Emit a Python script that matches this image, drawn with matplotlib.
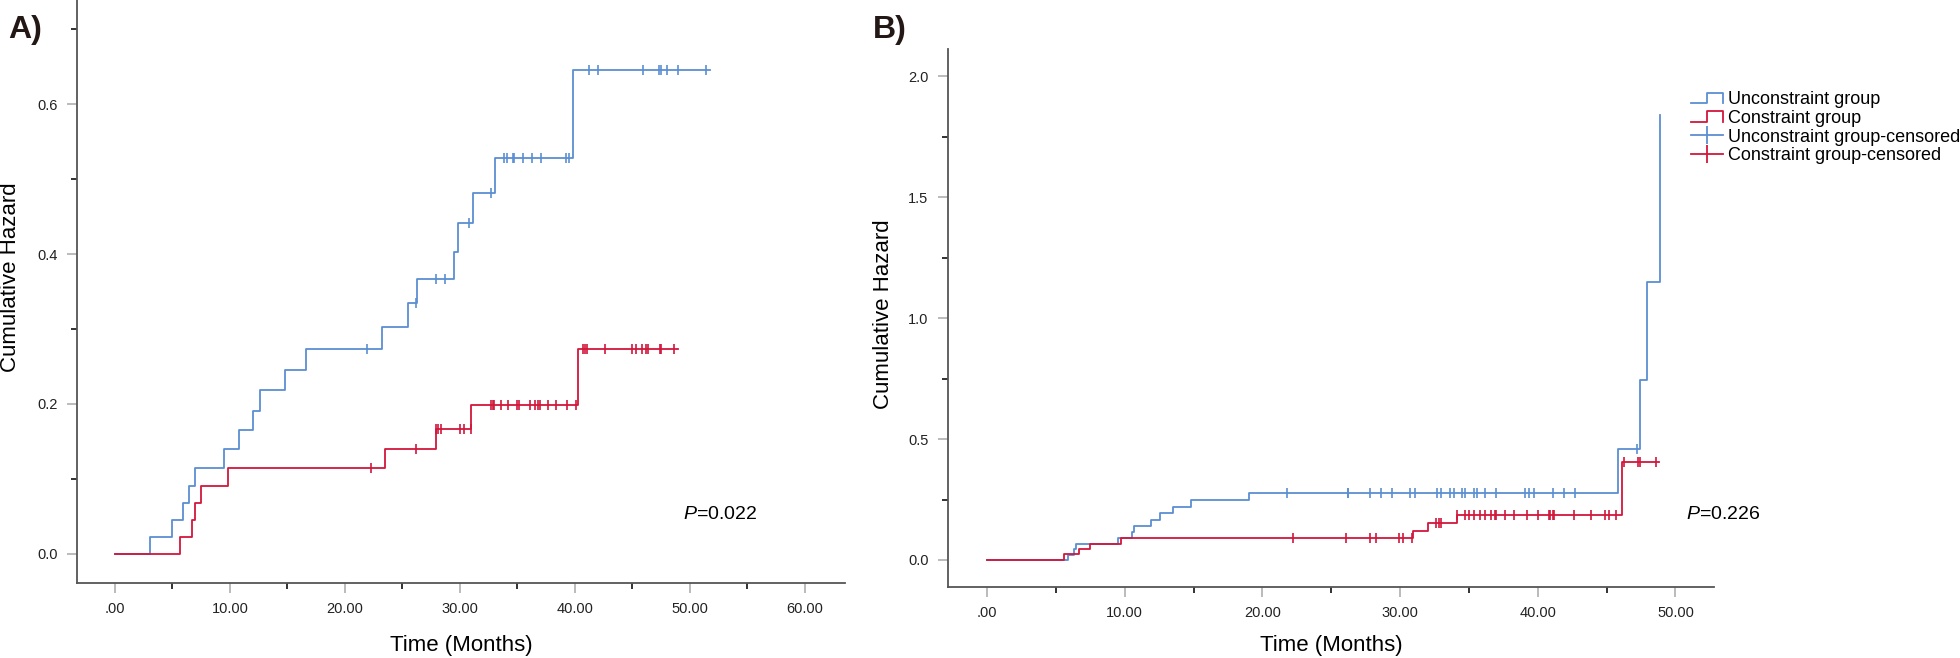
import matplotlib.pyplot as plt
import numpy as np
from matplotlib.lines import Line2D
from matplotlib.legend_handler import HandlerBase
from matplotlib.ticker import MultipleLocator, FuncFormatter

plt.rcParams['font.family'] = ['Liberation Sans', 'DejaVu Sans']
plt.rcParams['mathtext.fontset'] = 'custom'
plt.rcParams['mathtext.it'] = 'Liberation Sans:italic'
plt.rcParams['mathtext.rm'] = 'Liberation Sans'

BLUE = '#5b8fd2'
RED = '#d2173c'

# Panel A - step curves (time, cumulative hazard) and censored times
a_unc_t = [0, 3.07, 4.97, 5.95, 6.4, 7.0, 9.5, 10.8, 12.0, 12.6, 14.8, 16.6, 23.2, 25.45, 26.3, 29.5, 29.8, 31.15, 33.1, 39.85]
a_unc_h = [0, 0.022, 0.045, 0.068, 0.091, 0.115, 0.140, 0.165, 0.190, 0.218, 0.245, 0.273, 0.303, 0.334, 0.367, 0.403, 0.441, 0.482, 0.528, 0.645]
a_unc_end = 51.8
a_unc_cens = [21.9, 26.2, 27.9, 28.7, 30.8, 32.7, 33.8, 34.1, 34.6, 34.7, 35.5, 36.3, 37.1, 39.2, 39.5,
              41.2, 42.0, 45.9, 47.3, 47.5, 48.0, 49.0, 51.4]

a_con_t = [0, 5.7, 6.7, 7.0, 7.5, 9.8, 23.5, 27.9, 31.0, 40.25]
a_con_h = [0, 0.022, 0.045, 0.068, 0.091, 0.115, 0.140, 0.167, 0.199, 0.273]
a_con_end = 49.0
a_con_cens = [22.3, 26.2, 27.95, 28.1, 28.4, 30.0, 30.4, 30.95,
              32.7, 32.9, 33.0, 33.6, 34.2, 35.0, 35.15, 36.1, 36.5, 36.8, 37.0, 37.7, 38.4, 39.3, 40.1,
              40.7, 40.9, 41.1, 42.6, 45.0, 45.3, 45.8, 46.2, 46.4, 47.4, 47.5, 48.6]

# Panel B
b_unc_t = [0, 5.86, 6.3, 6.5, 9.5, 10.5, 10.7, 11.9, 12.6, 13.5, 14.8, 19.0, 45.8, 47.45, 47.9, 48.9]
b_unc_h = [0, 0.02, 0.047, 0.067, 0.092, 0.114, 0.14, 0.165, 0.193, 0.219, 0.247, 0.276, 0.459, 0.744, 1.15, 1.84]
b_unc_end = 48.9
b_unc_cens = [21.8, 26.2, 26.25, 27.8, 28.6, 29.4, 30.7, 31.1, 32.7, 33.0, 33.6, 33.9, 34.5, 34.7, 35.4, 35.6,
              36.2, 37.0, 39.1, 39.4, 39.7, 41.1, 41.9, 42.7, 47.2]

b_con_t = [0, 5.6, 6.65, 7.5, 9.7, 30.96, 32.0, 34.1, 46.1]
b_con_h = [0, 0.023, 0.044, 0.067, 0.091, 0.12, 0.152, 0.186, 0.406]
b_con_end = 48.8
b_con_cens = [22.2, 26.1, 27.8, 28.25, 29.9, 30.2, 30.9, 32.6, 32.8, 33.0,
              34.15, 34.7, 35.0, 35.4, 35.8, 36.2, 36.6, 36.9, 37.0, 37.6, 38.3, 39.2, 40.0, 40.8, 40.9,
              41.1, 41.2, 42.6, 43.9, 44.9, 45.2, 45.7, 46.3, 47.3, 47.4, 48.6]

labels = ['Unconstraint group', 'Constraint group', 'Unconstraint group-censored', 'Constraint group-censored']


def draw_curve(ax, t, h, end, cens, color):
    ax.step(list(t) + [end], list(h) + [h[-1]], where='post', color=color, lw=1.3, zorder=3)
    idx = np.searchsorted(t, cens, side='right') - 1
    ax.plot(cens, np.array(h)[idx], linestyle='none', marker='|', ms=7.5, mew=1.2, color=color, zorder=4)


def style_axes(ax, mx, nx, my, ny, xfmt, yfmt):
    for s in ['top', 'right']:
        ax.spines[s].set_visible(False)
    for s in ['left', 'bottom']:
        ax.spines[s].set_color('#555555')
        ax.spines[s].set_linewidth(1.3)
    ax.xaxis.set_major_locator(MultipleLocator(mx))
    ax.xaxis.set_minor_locator(MultipleLocator(nx))
    ax.yaxis.set_major_locator(MultipleLocator(my))
    ax.yaxis.set_minor_locator(MultipleLocator(ny))
    ax.xaxis.set_major_formatter(FuncFormatter(xfmt))
    ax.yaxis.set_major_formatter(FuncFormatter(yfmt))
    ax.tick_params(which='major', length=7, width=1.3, color='#b5b5b5', labelsize=10.5, pad=7,
                   labelcolor='#222222')
    ax.tick_params(which='minor', length=4, width=1.3, color='#222222')


def fmt_x(v, p):
    s = f'{v:.2f}'
    return s[1:] if s.startswith('0') else s


fig = plt.figure(figsize=(19.6, 6.58), dpi=100)
W, H = 1960, 658

axA = fig.add_axes([77 / W, 1 - 583 / H, (845 - 77) / W, 583 / H])
draw_curve(axA, a_unc_t, a_unc_h, a_unc_end, a_unc_cens, BLUE)
draw_curve(axA, a_con_t, a_con_h, a_con_end, a_con_cens, RED)
axA.set_xlim(-3.3, 63.5)
axA.set_ylim(-0.0387, 0.7387)
style_axes(axA, 10, 5, 0.2, 0.1, fmt_x, lambda v, p: f'{v:.1f}')
axA.text(49.4, 0.052, '$\\mathit{P}$=0.022', fontsize=14, va='center', ha='left')

axB = fig.add_axes([948 / W, 1 - 587 / H, (1714 - 948) / W, (587 - 49) / H])
draw_curve(axB, b_unc_t, b_unc_h, b_unc_end, b_unc_cens, BLUE)
draw_curve(axB, b_con_t, b_con_h, b_con_end, b_con_cens, RED)
axB.set_xlim(-2.83, 52.8)
axB.set_ylim(-0.1116, 2.112)
style_axes(axB, 10, 5, 0.5, 0.25, fmt_x, lambda v, p: f'{v:.1f}')
axB.text(50.8, 0.186, '$\\mathit{P}$=0.226', fontsize=14, va='center', ha='left')

# axis titles and panel letters
fig.text(11 / W, 1 - 277 / H, 'Cumulative Hazard', rotation=90, fontsize=16, ha='center', va='center')
fig.text(461 / W, 1 - 645 / H, 'Time (Months)', fontsize=16, ha='center', va='center')
fig.text(883 / W, 1 - 314 / H, 'Cumulative Hazard', rotation=90, fontsize=16, ha='center', va='center')
fig.text(1331 / W, 1 - 645 / H, 'Time (Months)', fontsize=16, ha='center', va='center')
fig.text(25 / W, 1 - 30 / H, 'A)', fontsize=23, fontweight='bold', ha='center', va='center', color='#231815')
fig.text(890 / W, 1 - 30 / H, 'B)', fontsize=23, fontweight='bold', ha='center', va='center', color='#231815')


class StepHandler(HandlerBase):
    def create_artists(self, legend, orig_handle, xdescent, ydescent, width, height, fontsize, trans):
        x0, y0 = -xdescent, -ydescent
        xs = [x0, x0 + 0.5 * width, x0 + 0.5 * width, x0 + width, x0 + width]
        ys = [y0 + 0.1 * height, y0 + 0.1 * height, y0 + 0.9 * height, y0 + 0.9 * height, y0 + 0.1 * height]
        line = Line2D(xs, ys, color=orig_handle.get_color(), lw=orig_handle.get_linewidth())
        line.set_transform(trans)
        return [line]


h_unc = Line2D([], [], color=BLUE, lw=1.3)
h_con = Line2D([], [], color=RED, lw=1.3)
h_unc_c = Line2D([], [], color=BLUE, lw=1.3, marker='|', ms=13, mew=1.3)
h_con_c = Line2D([], [], color=RED, lw=1.3, marker='|', ms=13, mew=1.3)
fig.legend([h_unc, h_con, h_unc_c, h_con_c], labels,
           handler_map={h_unc: StepHandler(), h_con: StepHandler()},
           loc='upper left', bbox_to_anchor=(1691 / W, 1 - 91 / H), bbox_transform=fig.transFigure,
           frameon=False, fontsize=13, handlelength=1.78, handletextpad=0.28, labelspacing=0.1,
           borderpad=0, borderaxespad=0)

fig.savefig('out.png', dpi=100)
